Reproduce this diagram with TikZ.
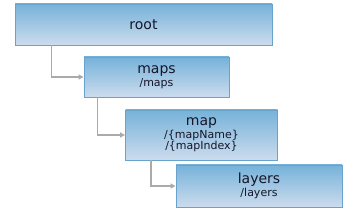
\documentclass[tikz,border=0pt]{standalone}
\usepackage{fontspec}
\setmainfont{DejaVu Sans}
\usetikzlibrary{arrows.meta,positioning,calc}
\definecolor{boxtop}{RGB}{118,178,217}
\definecolor{boxbot}{RGB}{204,220,238}
\definecolor{boxline}{RGB}{104,163,205}
\definecolor{ink}{RGB}{22,22,40}
\definecolor{wire}{RGB}{170,170,170}
\tikzset{
  res/.style={draw=boxline, line width=0.9pt, top color=boxtop, bottom color=boxbot,
              inner sep=2pt, align=center, text=ink, font=\fontsize{14}{14}\selectfont},
  flow/.style={-{Triangle[length=5pt,width=5pt]}, wire, line width=1.4pt},
}
\newcommand{\subpath}[1]{\\[-1pt]{\fontsize{11}{13}\selectfont #1}}

\begin{document}
\begin{tikzpicture}[x=1pt, y=1pt]
        \useasboundingbox (0,0) rectangle (356,-208);
        \node[res, minimum width=257pt, minimum height=41pt] (root)   at (143.5,-24.5) {root};
        \node[res, minimum width=145pt, minimum height=40pt] (maps)   at (156.5,-77)   {maps\subpath{/maps}};
        \node[res, minimum width=152pt, minimum height=50pt] (map)    at (201.5,-135)  {map\subpath{/\{mapName\}}\\[-3pt]{\fontsize{11}{13}\selectfont /\{mapIndex\}}};
        \node[res, minimum width=166pt, minimum height=42pt] (layers) at (259,-186)    {layers\subpath{/layers}};
        % parent -> child
        \draw[flow] ([xshift=37pt]root.south west) |- (maps.west);
        \draw[flow] ([xshift=14pt]maps.south west) |- (map.west);
        \draw[flow] ([xshift=26pt]map.south west) |- (layers.west);
      \end{tikzpicture}
\end{document}
